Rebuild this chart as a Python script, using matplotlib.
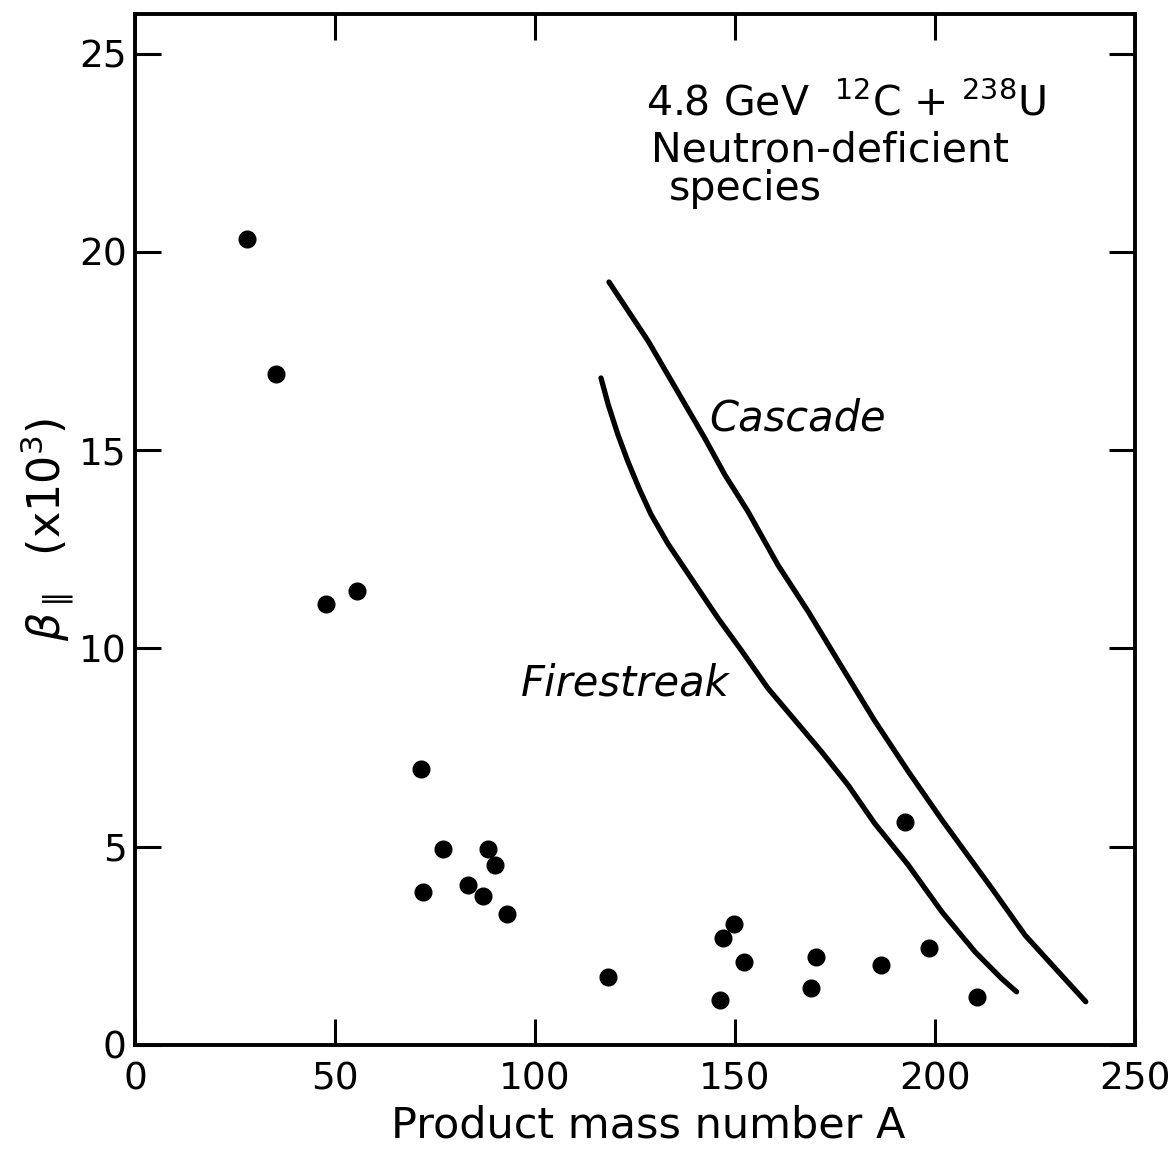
import matplotlib.pyplot as plt
import numpy as np

plt.rcParams['font.family'] = 'DejaVu Sans'
plt.rcParams['mathtext.fontset'] = 'dejavusans'

# Measured points: product mass number A vs beta_parallel (x10^3)
mass_a = [28.1, 35.3, 47.8, 55.4, 71.4, 72.1, 76.9, 83.2, 86.9, 88.2, 89.9, 92.9,
          118.2, 146.3, 147.0, 149.8, 152.3, 169.1, 170.3, 186.4, 192.6, 198.4, 210.4]
beta_par = [20.33, 16.92, 11.11, 11.44, 6.97, 3.86, 4.95, 4.04, 3.76, 4.95, 4.55, 3.31,
            1.72, 1.14, 2.70, 3.06, 2.10, 1.44, 2.22, 2.02, 5.63, 2.45, 1.21]

# Model curves
cascade_a = [118.5, 128.3, 142.4, 147.4, 153.2, 160.7, 168.3, 176.6, 184.9, 193.3,
             201.7, 214.2, 222.5, 230.9, 237.7]
cascade_b = [19.24, 17.75, 15.31, 14.39, 13.46, 12.11, 10.93, 9.55, 8.18, 6.90,
             5.68, 3.95, 2.77, 1.84, 1.09]
fire_a = [116.5, 118.3, 120.7, 123.2, 126.0, 129.0, 133.3, 139.5, 145.7, 151.6, 158.2,
          164.9, 171.6, 178.3, 184.9, 193.3, 201.7, 210.0, 216.7, 220.4]
fire_b = [16.82, 16.15, 15.40, 14.72, 14.04, 13.38, 12.63, 11.70, 10.77, 9.95, 9.00,
          8.20, 7.40, 6.55, 5.59, 4.54, 3.36, 2.35, 1.67, 1.34]

xticks = [0, 50, 100, 150, 200, 250]
yticks = [0, 5, 10, 15, 20, 25]

fig = plt.figure(figsize=(11.72, 11.54), dpi=100)
ax = fig.add_axes([0.1152, 0.0945, 0.8532, 0.8934])

ax.plot(mass_a, beta_par, 'o', color='black', markersize=12)
ax.plot(cascade_a, cascade_b, '-', color='black', linewidth=3.8,
        solid_capstyle='round', solid_joinstyle='round')
ax.plot(fire_a, fire_b, '-', color='black', linewidth=3.8,
        solid_capstyle='round', solid_joinstyle='round')

ax.set_xlim(0, 250)
ax.set_ylim(0, 26)
ax.set_xticks(xticks)
ax.set_yticks(yticks)
ax.tick_params(direction='in', length=19, width=2.2, top=True, right=True,
               labelsize=27)
ax.tick_params(axis='x', pad=12)
ax.tick_params(axis='y', pad=6)
for s in ax.spines.values():
    s.set_linewidth(2.8)

ax.set_xlabel('Product mass number A', fontsize=31)
ax.xaxis.set_label_coords(0.513, -0.058)
ax.set_ylabel(r'$\beta_{\parallel}$  (x10$^3$)', fontsize=32, labelpad=2)

ax.text(127.8, 23.45, r'4.8 GeV  $^{12}$C + $^{238}$U', fontsize=29.5, ha='left', va='baseline')
ax.text(129.0, 22.27, 'Neutron-deficient', fontsize=29.5, ha='left', va='baseline')
ax.text(133.5, 21.3, 'species', fontsize=29.5, ha='left', va='baseline')

ax.text(143.5, 15.5, 'Cascade', fontsize=30, style='italic', ha='left', va='baseline')
ax.text(96.5, 8.8, 'Firestreak', fontsize=30, style='italic', ha='left', va='baseline')

plt.savefig('out.png', dpi=100)
plt.close()
